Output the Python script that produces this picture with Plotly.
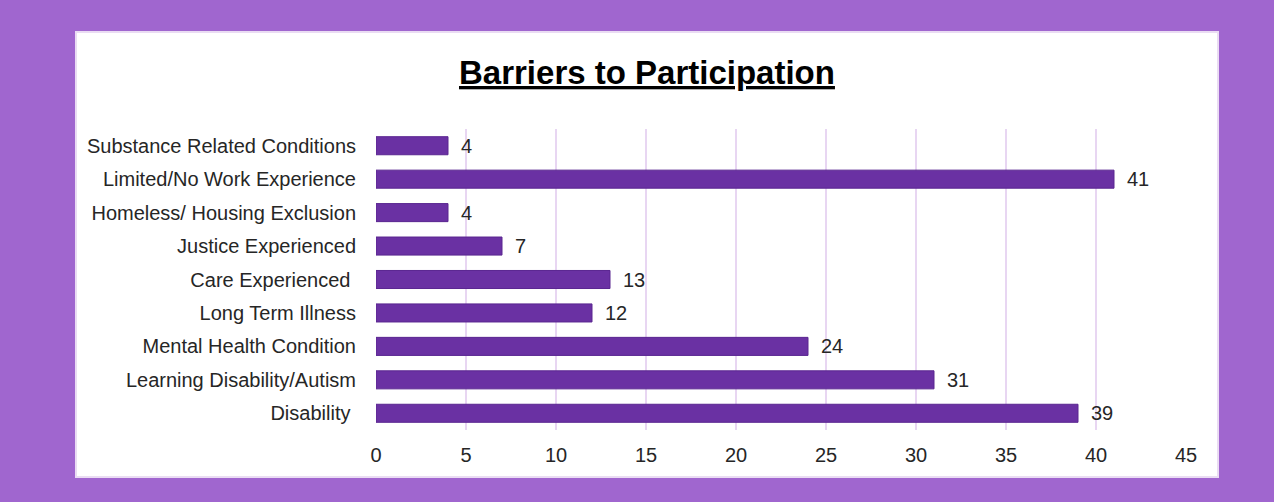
import plotly.graph_objects as go

# Barriers reported by participants (top to bottom as displayed)
categories = [
    "Substance Related Conditions",
    "Limited/No Work Experience",
    "Homeless/ Housing Exclusion",
    "Justice Experienced",
    "Care Experienced ",
    "Long Term Illness",
    "Mental Health Condition",
    "Learning Disability/Autism",
    "Disability ",
]
counts = [4, 41, 4, 7, 13, 12, 24, 31, 39]
x_ticks = [0, 5, 10, 15, 20, 25, 30, 35, 40, 45]

W, H = 1274, 502
L, R, T, B = 376, 88, 129, 72
pw, ph = W - L - R, H - T - B
FONT = "Liberation Sans, Arial"
TXT = "#262626"


def px_x(p):
    return (p - L) / pw


def px_y(p):
    return (H - B - p) / ph


fig = go.Figure(
    go.Bar(
        x=counts,
        y=categories,
        orientation="h",
        width=0.54,
        marker=dict(color="#6a31a3", line=dict(color="#5a2690", width=1)),
        text=counts,
        texttemplate="\u2002%{x}",
        textposition="outside",
        constraintext="none",
        textfont=dict(family=FONT, size=20, color=TXT),
        cliponaxis=False,
    )
)

# white card behind the chart
fig.add_shape(
    type="rect", xref="paper", yref="paper", layer="below",
    x0=px_x(76), x1=px_x(1218), y0=px_y(477), y1=px_y(32),
    fillcolor="white", line=dict(color="#eadcf3", width=2),
)

fig.add_annotation(
    xref="paper", yref="paper", x=px_x(647), y=px_y(72),
    text="<b><span style='text-decoration:underline'>Barriers to Participation</span></b>",
    showarrow=False, xanchor="center", yanchor="middle",
    font=dict(family=FONT, size=33, color="#000000"),
)

fig.update_layout(
    width=W, height=H,
    margin=dict(l=L, r=R, t=T, b=B, pad=0),
    paper_bgcolor="#a066cf",
    plot_bgcolor="rgba(0,0,0,0)",
    showlegend=False,
    bargap=0.46,
    uniformtext=dict(mode=False),
    xaxis=dict(
        range=[0, 45], tickvals=x_ticks, showgrid=True, gridcolor="#e8d6f2",
        gridwidth=1.5, zeroline=False, showline=False,
        ticks="outside", ticklen=7, tickcolor="rgba(0,0,0,0)",
        tickfont=dict(family=FONT, size=20, color=TXT),
    ),
    yaxis=dict(
        autorange="reversed", showgrid=False, zeroline=False, showline=False,
        ticks="outside", ticklen=15, tickcolor="rgba(0,0,0,0)",
        tickfont=dict(family=FONT, size=20, color=TXT),
    ),
)

fig.write_html("out.html")
